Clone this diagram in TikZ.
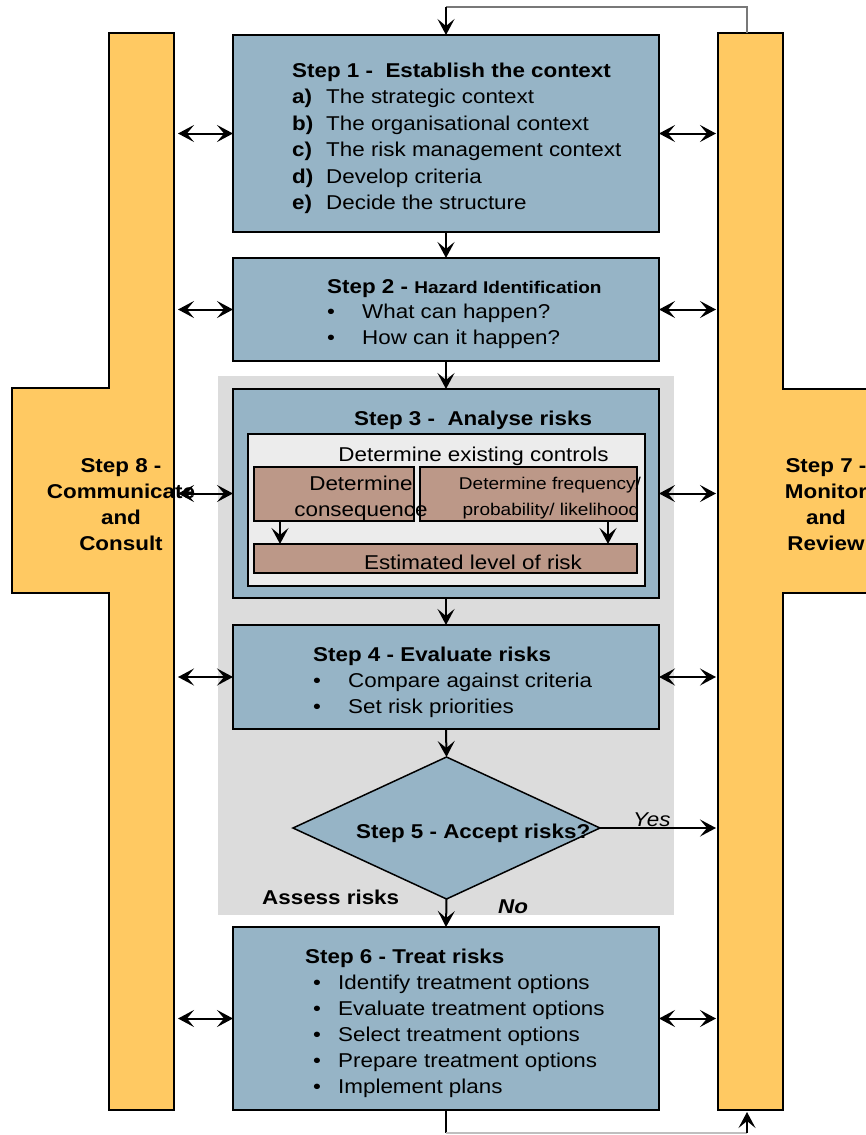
\documentclass[tikz,border=0pt]{standalone}
\usepackage{fontspec}
\setmainfont{Liberation Sans}[FakeStretch=1.12]
\usetikzlibrary{arrows.meta,shapes.geometric}
\definecolor{boxblue}{RGB}{150,180,198}
\definecolor{colorange}{RGB}{255,201,98}
\definecolor{bggray}{RGB}{220,220,220}
\definecolor{brownbox}{RGB}{188,152,136}
\definecolor{innerbox}{RGB}{236,236,236}
\definecolor{loopgray}{RGB}{120,120,120}
\newcommand\fsz[1]{\fontsize{#1}{#1}\selectfont}
\tikzset{bigtip/.tip={Stealth[length=16pt,width=17pt,inset=7pt]}}
\begin{document}
\begin{tikzpicture}[x=1pt,y=-1pt,
  bluebox/.style={draw=black,line width=2.5pt,fill=boxblue,inner sep=0pt,outer sep=0pt,anchor=north west},
  brbox/.style={draw=black,line width=2.5pt,fill=brownbox,inner sep=0pt,outer sep=0pt,anchor=north west},
  inbox/.style={draw=black,line width=2.5pt,fill=innerbox,inner sep=0pt,outer sep=0pt,anchor=north west},
  col/.style={draw=black,line width=2.5pt,fill=colorange},
  txt/.style={anchor=base west,inner sep=0pt,font=\fsz{20}},
  btxt/.style={anchor=base west,inner sep=0pt,font=\fsz{20}\bfseries},
  ctxt/.style={anchor=base,inner sep=0pt,font=\fsz{20}},
  cbtxt/.style={anchor=base,inner sep=0pt,font=\fsz{20}\bfseries},
  arr/.style={-bigtip,line width=2pt},
  dbl/.style={bigtip-bigtip,line width=2pt}]
\useasboundingbox (0,0) rectangle (866,1135);
\fill[white] (0,0) rectangle (866,1135);
% assess risks background
\fill[bggray] (218,376) rectangle (674,915);
% columns
\draw[col] (109,33) -- (174,33) -- (174,1110) -- (109,1110) -- (109,593) -- (12,593) -- (12,388) -- (109,388) -- cycle;
\draw[col] (718,33) -- (783,33) -- (783,389) -- (900,389) -- (900,593) -- (783,593) -- (783,1110) -- (718,1110) -- cycle;
% boxes
\node[bluebox,minimum width=426pt,minimum height=197pt] (s1) at (233,35) {};
\node[bluebox,minimum width=426pt,minimum height=103pt] (s2) at (233,258) {};
\node[bluebox,minimum width=426pt,minimum height=209pt] (s3) at (233,389) {};
\node[inbox,minimum width=397pt,minimum height=152pt] (s3in) at (248,434) {};
\node[brbox,minimum width=160pt,minimum height=54pt] (cons) at (254,467) {};
\node[brbox,minimum width=217pt,minimum height=54pt] (freq) at (420,467) {};
\node[brbox,minimum width=383pt,minimum height=29pt] (est) at (254,544) {};
\node[bluebox,minimum width=426pt,minimum height=104pt] (s4) at (233,625) {};
\node[diamond,draw=black,line width=1.5pt,fill=boxblue,minimum width=307pt,minimum height=142pt,aspect=2.16,inner sep=0pt,outer sep=0pt] (s5) at (446.5,828) {};
\node[bluebox,minimum width=426pt,minimum height=183pt] (s6) at (233,927) {};
% texts step 1
\node[btxt] (t1) at (292,77) {Step 1 -\ \ Establish the context};
\node[btxt] (t1a) at (292,103) {a)};
\node[txt] (t1at) at (326,103) {The strategic context};
\node[btxt] (t1b) at (292,130) {b)};
\node[txt] (t1bt) at (326,130) {The organisational context};
\node[btxt] (t1c) at (292,156) {c)};
\node[txt] (t1ct) at (326,156) {The risk management context};
\node[btxt] (t1d) at (292,183) {d)};
\node[txt] (t1dt) at (326,183) {Develop criteria};
\node[btxt] (t1e) at (292,209) {e)};
\node[txt] (t1et) at (326,209) {Decide the structure};
% step 2
\node[btxt] (t2) at (327,293) {Step 2 - {\fsz{17}Hazard Identification}};
\node[txt] (t2ab) at (327,318) {•};
\node[txt] (t2a) at (362,318) {What can happen?};
\node[txt] (t2bb) at (327,344) {•};
\node[txt] (t2b) at (362,344) {How can it happen?};
% step 3
\node[btxt] (t3) at (354,425) {Step 3 -\ \ Analyse risks};
\node[ctxt] (t3a) at (473.5,461) {Determine existing controls};
\node[ctxt] (t3b1) at (361,490) {Determine};
\node[ctxt] (t3b2) at (361,516) {consequence};
\node[ctxt,font=\fsz{17}] (t3c1) at (550,489) {Determine frequency/};
\node[ctxt,font=\fsz{17}] (t3c2) at (551,515) {probability/ likelihood};
\node[ctxt] (t3d) at (473,569) {Estimated level of risk};
% step 4
\node[btxt] (t4) at (313,661) {Step 4 - Evaluate risks};
\node[txt] (t4ab) at (313,687) {•};
\node[txt] (t4a) at (348,687) {Compare against criteria};
\node[txt] (t4bb) at (313,713) {•};
\node[txt] (t4b) at (348,713) {Set risk priorities};
% step 5
\node[btxt] (t5) at (356,838) {Step 5 - Accept risks?};
\node[txt,font=\fsz{20}\itshape] (yes) at (633,826) {Yes};
\node[txt,font=\fsz{20}\bfseries\itshape] (no) at (498,913) {No};
\node[btxt] (assess) at (262,904) {Assess risks};
% step 6
\node[btxt] (t6) at (305,963) {Step 6 - Treat risks};
\node[txt] (t6ab) at (313,989) {•};
\node[txt] (t6a) at (338,989) {Identify treatment options};
\node[txt] (t6bb) at (313,1015) {•};
\node[txt] (t6b) at (338,1015) {Evaluate treatment options};
\node[txt] (t6cb) at (313,1041) {•};
\node[txt] (t6c) at (338,1041) {Select treatment options};
\node[txt] (t6db) at (313,1067) {•};
\node[txt] (t6d) at (338,1067) {Prepare treatment options};
\node[txt] (t6eb) at (313,1093) {•};
\node[txt] (t6e) at (338,1093) {Implement plans};
% column texts
\node[cbtxt] (l1) at (121,472) {Step 8 -};
\node[cbtxt] (l2) at (121,498) {Communicate};
\node[cbtxt] (l3) at (121,524) {and};
\node[cbtxt] (l4) at (121,550) {Consult};
\node[cbtxt] (r1) at (826,472) {Step 7 -};
\node[cbtxt] (r2) at (826,498) {Monitor};
\node[cbtxt] (r3) at (826,524) {and};
\node[cbtxt] (r4) at (826,550) {Review};
% coordinates
\coordinate (L1) at (178,133.5); \coordinate (R1) at (716,133.5);
\coordinate (L2) at (178,309.5); \coordinate (R2) at (716,309.5);
\coordinate (L3) at (178,493.5); \coordinate (R3) at (716,493.5);
\coordinate (L4) at (178,677);   \coordinate (R4) at (716,677);
\coordinate (L6) at (178,1018.5);\coordinate (R6) at (716,1018.5);
\coordinate (Y5) at (716,828);
\coordinate (rtop) at (747,33); \coordinate (loopR) at (747,7); \coordinate (loopL) at (446,7);
\coordinate (botL) at (446,1133); \coordinate (botR) at (747,1133); \coordinate (rbot) at (747,1112);
% double arrows
\draw[dbl] (L1) -- (s1.west);  \draw[dbl] (s1.east) -- (R1);
\draw[dbl] (L2) -- (s2.west);  \draw[dbl] (s2.east) -- (R2);
\draw[dbl] (L3) -- (s3.west);  \draw[dbl] (s3.east) -- (R3);
\draw[dbl] (L4) -- (s4.west);  \draw[dbl] (s4.east) -- (R4);
\draw[dbl] (L6) -- (s6.west);  \draw[dbl] (s6.east) -- (R6);
% flow arrows
\draw[arr] (s1.south) -- (s2.north);
\draw[arr] (s2.south) -- (s3.north);
\draw[arr] (s3.south) -- (s4.north);
\draw[arr] (s4.south) -- (s5.north);
\draw[arr] (s5.south) -- (s6.north);
\draw[arr] (s5.east) -- (Y5);
\draw[arr] (cons.south -| 280,0) -- (est.north -| 280,0);
\draw[arr] (freq.south -| 608,0) -- (est.north -| 608,0);
% loops
\draw[loopgray,line width=1.5pt] (rtop) -- (loopR) -- (loopL);
\draw[arr,line width=1.5pt] (loopL) -- (s1.north);
\draw[line width=1.5pt] (s6.south) -- (botL);
\draw[black!25,line width=1.5pt] (botL) -- (botR);
\draw[arr,line width=1.5pt] (botR) -- (rbot);
\end{tikzpicture}
\end{document}
